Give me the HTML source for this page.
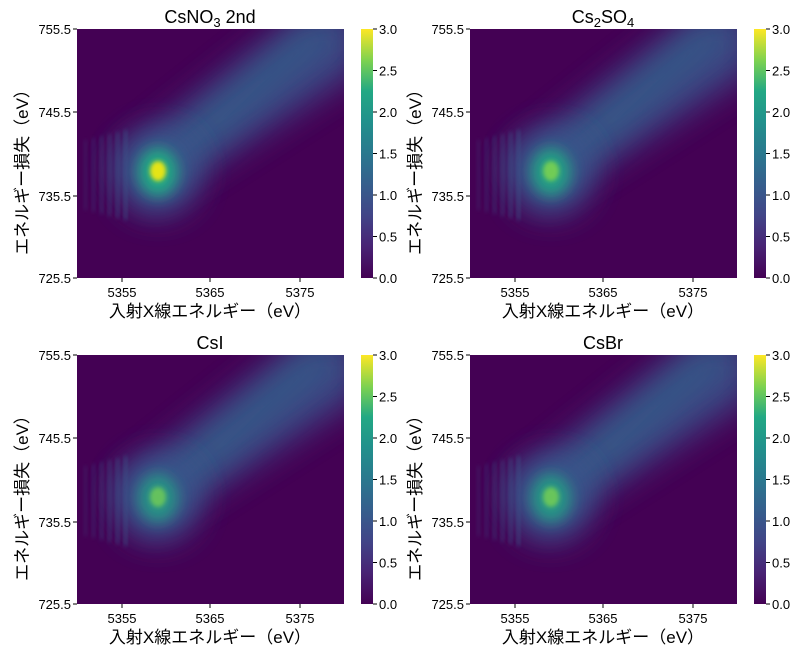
<!DOCTYPE html>
<html><head><meta charset="utf-8"><style>
body{margin:0;background:#fff;width:800px;height:651px;overflow:hidden;position:relative;font-family:"Liberation Sans","Noto Sans CJK JP",sans-serif}
.p{position:absolute;left:0;top:0;width:400px;height:325px}
</style></head><body>
<svg width="0" height="0" style="position:absolute">
<defs>
<linearGradient id="cb" x1="0" y1="1" x2="0" y2="0">
<stop offset="0" stop-color="#440154"/><stop offset="0.13" stop-color="#482475"/><stop offset="0.25" stop-color="#414487"/><stop offset="0.38" stop-color="#355f8d"/><stop offset="0.5" stop-color="#2a788e"/><stop offset="0.63" stop-color="#21918c"/><stop offset="0.75" stop-color="#22a884"/><stop offset="0.87" stop-color="#7ad151"/><stop offset="1" stop-color="#fde725"/>
</linearGradient>
<filter id="b1" x="-50%" y="-50%" width="200%" height="200%"><feGaussianBlur stdDeviation="16"/></filter>
<filter id="b2" x="-50%" y="-50%" width="200%" height="200%"><feGaussianBlur stdDeviation="7"/></filter>
<filter id="b3" x="-50%" y="-50%" width="200%" height="200%"><feGaussianBlur stdDeviation="2"/></filter>
<clipPath id="cl"><rect x="77" y="29" width="267" height="249"/></clipPath>
</defs>
</svg>
<div id="tpl"></div>
<script>
const panels=[
 {dx:0,dy:0,t:'CsNO<tspan font-size="13" dy="4">3</tspan><tspan dy="-4"> 2nd</tspan>',k:1},
 {dx:393,dy:0,t:'Cs<tspan font-size="13" dy="4">2</tspan><tspan dy="-4">SO</tspan><tspan font-size="13" dy="4">4</tspan>',k:0.9},
 {dx:0,dy:326,t:'CsI',k:0.75},
 {dx:393,dy:326,t:'CsBr',k:0.8}];
let h='';
for(const p of panels){
 let stripes='';
 for(let i=0;i<6;i++){stripes+=`<rect x="${84+i*8}" y="${140-i*2}" width="3" height="${70+i*4}" fill="#3b5a8c" opacity="${0.25+i*0.07}" filter="url(#b3)"/>`;}
 h+=`<svg class="p" style="left:${p.dx}px;top:${p.dy}px" width="400" height="325">
<text x="210" y="23" font-size="18" text-anchor="middle" fill="#000">${p.t}</text>
<g clip-path="url(#cl)">
<rect x="77" y="29" width="267" height="249" fill="#440154"/>
<polygon points="150,205 115,160 305,10 360,10 360,70" fill="#3b528b" opacity="0.85" filter="url(#b1)"/>
<polygon points="160,185 140,165 310,25 345,25" fill="#2c728e" opacity="0.5" filter="url(#b1)"/>
<ellipse cx="158" cy="172" rx="40" ry="42" fill="#3b528b" filter="url(#b1)"/>
<ellipse cx="158" cy="172" rx="20" ry="24" fill="#22a884" opacity="${p.k}" filter="url(#b2)"/>
<ellipse cx="158" cy="171" rx="8" ry="10" fill="${p.k>0.95?'#e5e419':'#7ad151'}" opacity="${p.k}" filter="url(#b3)"/>
${stripes}
</g>
<rect x="361" y="29" width="12" height="249" fill="url(#cb)"/>
<g font-size="13" fill="#000">
${[0,0.5,1,1.5,2,2.5,3].map(v=>{const y=278-v*83;return `<line x1="373" x2="377" y1="${y}" y2="${y}" stroke="#000"/><text x="379" y="${y+5}">${v.toFixed(1)}</text>`}).join('')}
${[['755.5',29],['745.5',112],['735.5',196],['725.5',278]].map(a=>`<line x1="73" x2="77" y1="${a[1]}" y2="${a[1]}" stroke="#000"/><text x="71" y="${a[1]+5}" text-anchor="end">${a[0]}</text>`).join('')}
${[['5355',122],['5365',210],['5375',300]].map(a=>`<line x1="${a[1]}" x2="${a[1]}" y1="278" y2="282" stroke="#000"/><text x="${a[1]}" y="297" text-anchor="middle">${a[0]}</text>`).join('')}
</g>
<text x="210" y="317" font-size="17" text-anchor="middle" fill="#000">入射X線エネルギー（eV）</text>
<text transform="translate(28,168) rotate(-90)" font-size="17" text-anchor="middle" fill="#000">エネルギー損失（eV）</text>
</svg>`;
}
document.getElementById('tpl').innerHTML=h;
</script>
</body></html>
